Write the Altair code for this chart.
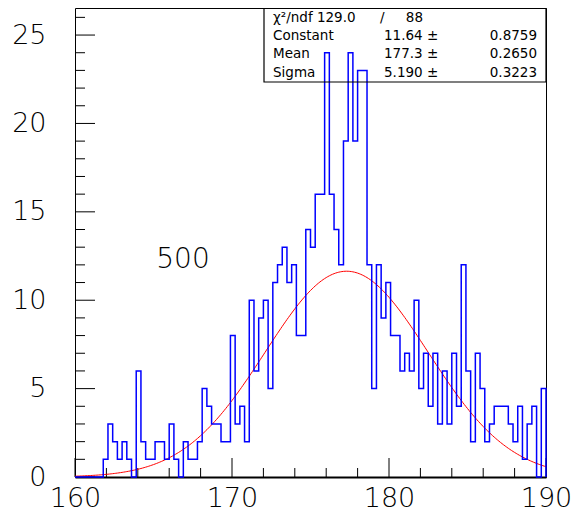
import altair as alt
import numpy as np
import pandas as pd

# ---- data ----
X_MIN, X_MAX = 160.0, 190.0
N_BINS = 100
counts = [0, 0, 0, 0, 0, 0,
          1, 3, 2, 1, 2, 1, 0, 6, 2, 1, 1, 2, 2, 1, 3, 1, 0,
          2, 1, 1, 2, 5, 4, 3, 3, 2, 2, 8, 3, 4, 2, 10, 6, 9, 10, 5, 11,
          12, 13, 11, 12, 8, 8,
          14, 13, 16, 16, 24, 16, 14, 12, 19, 24, 19, 23, 23, 12,
          5, 12, 9, 11, 8, 8, 6, 7, 6, 10, 5, 7, 4, 7, 3, 6, 3, 7, 4,
          12, 6, 2, 7, 5, 2, 3, 4, 4, 4, 3, 2, 4, 1, 3, 4, 0, 5]

# fit parameters (stats box)
fit_const, fit_mean, fit_sigma = 11.64, 177.3, 5.190
stat_names = ["Constant", "Mean", "Sigma"]
stat_values = ["11.64 \u00b1", "177.3 \u00b1", "5.190 \u00b1"]
stat_errors = ["0.8759", "0.2650", "0.3223"]
chi2_text = ["\u03c7\u00b2/ndf 129.0", "/", "88"]
entries_label = "500"

x_major = [160, 170, 180, 190]
x_minor = [v for v in range(162, 190, 2) if v % 10 != 0]
y_major = [0, 5, 10, 15, 20, 25]
y_minor = [v for v in range(1, 27) if v % 5 != 0]

# ---- build tables ----
edges = np.linspace(X_MIN, X_MAX, N_BINS + 1)
hx = list(edges) + [X_MAX]
hy = counts + [counts[-1], 0]
hist = pd.DataFrame({"x": hx, "y": hy, "o": range(len(hx))})

gx = np.arange(X_MIN, X_MAX + 1e-9, 0.1)
gauss = pd.DataFrame({"x": gx,
                      "y": fit_const * np.exp(-0.5 * ((gx - fit_mean) / fit_sigma) ** 2)})

W, H = 471, 469
FONT = "DejaVu Sans"
xs = alt.Scale(domain=[X_MIN, X_MAX], nice=False, zero=False)
ys = alt.Scale(domain=[0, 26.53], nice=False)

x_axis = alt.Axis(values=x_major, ticks=False, grid=False, title=None,
                  labelFontSize=27, labelFont=FONT, labelFontWeight=200,
                  labelColor="black", labelPadding=8, labelFlush=False,
                  domainColor="black", domainWidth=2, format="d")
y_axis = alt.Axis(values=y_major, ticks=False, grid=False, title=None,
                  labelFontSize=27, labelFont=FONT, labelFontWeight=200,
                  labelColor="black", labelPadding=29, domain=False, format="d")

base_hist = alt.Chart(hist).mark_line(interpolate="step-after", color="#0000ff",
                                      strokeWidth=1.5).encode(
    x=alt.X("x:Q", scale=xs, axis=x_axis),
    y=alt.Y("y:Q", scale=ys, axis=y_axis),
    order="o:Q")

fit_line = alt.Chart(gauss).mark_line(color="#ff0000", strokeWidth=1).encode(
    x=alt.X("x:Q", scale=xs), y=alt.Y("y:Q", scale=ys))

def xticks(vals, length):
    return alt.Chart(pd.DataFrame({"v": vals})).mark_rule(color="black", strokeWidth=1).encode(
        x=alt.X("v:Q", scale=xs), y=alt.value(H), y2=alt.value(H - length))

def yticks(vals, length):
    return alt.Chart(pd.DataFrame({"v": vals})).mark_rule(color="black", strokeWidth=1).encode(
        y=alt.Y("v:Q", scale=ys), x=alt.value(0), x2=alt.value(length))

one = pd.DataFrame({"a": [0]})

def txt(s, px, py, size=14, align="left", weight=400):
    return alt.Chart(one).mark_text(align=align, baseline="alphabetic", fontSize=size,
                                    font=FONT, color="black", fontWeight=weight).encode(
        x=alt.value(px), y=alt.value(py), text=alt.value(s))

box = alt.Chart(one).mark_rect(fillOpacity=0, stroke="black", strokeWidth=1.2).encode(
    x=alt.value(189), x2=alt.value(471), y=alt.value(0), y2=alt.value(74))

layers = [xticks(x_major, 19), xticks(x_minor, 9), yticks(y_major, 20), yticks(y_minor, 10),
          fit_line, base_hist, box]
layers.append(txt(chi2_text[0], 198, 13.5, size=13.5))
layers.append(txt(chi2_text[1], 305, 13.5, size=13.5))
layers.append(txt(chi2_text[2], 348, 13.5, size=13.5, align="right"))
row_y = [32, 50, 69]
for name, val, err, ry in zip(stat_names, stat_values, stat_errors, row_y):
    layers.append(txt(name, 198, ry, size=13.5))
    layers.append(txt(val, 309, ry, size=13.5))
    layers.append(txt(err, 462, ry, size=13.5, align="right"))
layers.append(txt(entries_label, 108, 260, size=28, align="center", weight=200))

chart = alt.layer(*layers).properties(
    width=W, height=H,
    autosize=alt.AutoSizeParams(type="none"),
    padding={"left": 67, "top": 0, "right": 25, "bottom": 36},
).configure_view(stroke="black", strokeWidth=1)

chart.save("out.html", embed_options={"renderer": "svg", "actions": False})
